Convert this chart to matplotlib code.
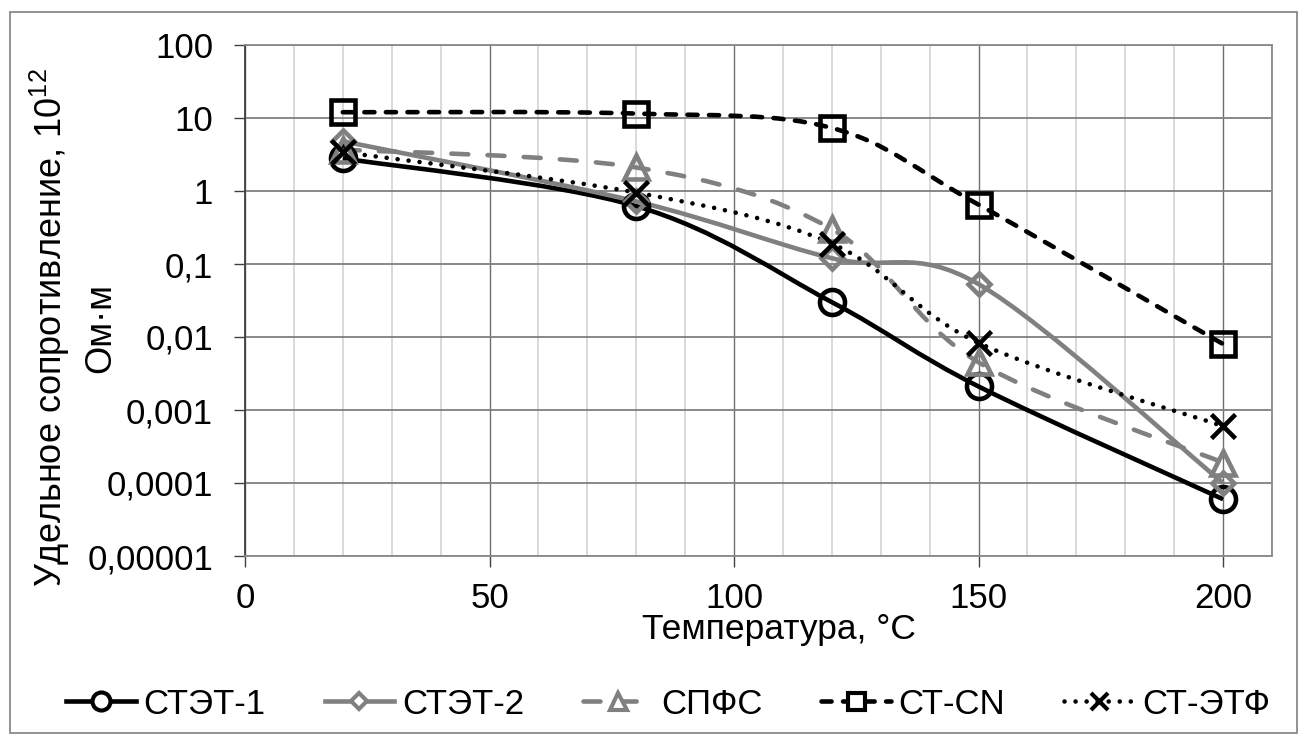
import numpy as np
import matplotlib
matplotlib.use("Agg")
import matplotlib.pyplot as plt
from matplotlib.path import Path
from matplotlib.patches import PathPatch, Rectangle
from matplotlib.lines import Line2D
from matplotlib.ticker import MultipleLocator, FixedLocator, FixedFormatter

plt.rcParams['font.family'] = ['Liberation Sans', 'DejaVu Sans']
plt.rcParams['mathtext.fontset'] = 'custom'
plt.rcParams['mathtext.rm'] = 'Liberation Sans'
plt.rcParams['mathtext.it'] = 'Liberation Sans:italic'

# data
temps = [20, 80, 120, 150, 200]
stet1 = [2.8, 0.62, 0.030, 0.0021, 0.00006]
stet2 = [4.8, 0.72, 0.12, 0.053, 0.0001]
spfs = [3.7, 2.1, 0.30, 0.0045, 0.00019]
ctcn = [12.0, 11.5, 7.3, 0.65, 0.008]
ctetf = [3.4, 0.95, 0.19, 0.0083, 0.0006]
names = ['СТЭТ-1', 'СТЭТ-2', 'СПФС', 'СТ-CN', 'СТ-ЭТФ']

x_ticks = [0, 50, 100, 150, 200]
y_ticks = [1e-5, 1e-4, 1e-3, 1e-2, 1e-1, 1, 10, 100]
y_labels = ['0,00001', '0,0001', '0,001', '0,01', '0,1', '1', '10', '100']

GRAY = '#808080'
LW = 3.3


def smooth_path(x, y):
    # Excel-like smoothed line: cubic Bezier segments through the points (log y)
    lx = np.asarray(x, float)
    ly = np.log10(np.asarray(y, float))
    n = len(lx)
    verts = [(lx[0], ly[0])]
    codes = [Path.MOVETO]
    for i in range(n - 1):
        a = max(i - 1, 0)
        b = min(i + 2, n - 1)
        c1 = (lx[i] + (lx[i + 1] - lx[a]) / 6, ly[i] + (ly[i + 1] - ly[a]) / 6)
        c2 = (lx[i + 1] - (lx[b] - lx[i]) / 6, ly[i + 1] - (ly[b] - ly[i]) / 6)
        verts += [c1, c2, (lx[i + 1], ly[i + 1])]
        codes += [Path.CURVE4] * 3
    verts = [(vx, 10 ** vy) for vx, vy in verts]
    return Path(verts, codes)


fig = plt.figure(figsize=(13.08, 7.4), dpi=100)
W, H = 1308, 740
ax = fig.add_axes([245 / W, 1 - 556 / H, (1272 - 245) / W, (556 - 45) / H])
ax.set_yscale('log')
ax.set_xlim(0, 210)
ax.set_ylim(1e-5, 100)

# grid
ax.xaxis.set_major_locator(FixedLocator(x_ticks))
ax.xaxis.set_minor_locator(MultipleLocator(10))
ax.yaxis.set_major_locator(FixedLocator(y_ticks))
ax.yaxis.set_major_formatter(FixedFormatter(y_labels))
ax.yaxis.set_minor_locator(FixedLocator([]))
ax.grid(True, which='minor', axis='x', color='#cfcfcf', lw=1.1)
ax.grid(True, which='major', axis='x', color='#6e6e6e', lw=1.0)
ax.grid(True, which='major', axis='y', color='#7f7f7f', lw=1.3)
ax.set_axisbelow(True)

for s in ax.spines.values():
    s.set_color('#8a8a8a')
    s.set_linewidth(1.3)
ax.spines['left'].set_color('#404040')

ax.tick_params(axis='both', which='major', direction='out', length=8, width=1,
               color='#404040', labelsize=25)
ax.tick_params(axis='y', pad=15)
ax.tick_params(axis='x', pad=11)
ax.tick_params(which='minor', length=0)

styles = [
    dict(color='black', ls='-', marker='o', ms=18, cap='butt'),
    dict(color=GRAY, ls='-', marker='D', ms=11.5, cap='butt'),
    dict(color=GRAY, ls=(0, (3.7, 4.2)), marker='^', ms=17, cap='round'),
    dict(color='black', ls=(0, (2.2, 2.5)), marker='s', ms=17, cap='round'),
    dict(color='black', ls=(0, (0.01, 2.4)), marker='x', ms=17, cap='round'),
]
series = [stet1, stet2, spfs, ctcn, ctetf]

handles = []
for vals, st, name in zip(series, styles, names):
    patch = PathPatch(smooth_path(temps, vals), facecolor='none', edgecolor=st['color'],
                      lw=LW, linestyle=st['ls'], capstyle=st['cap'], joinstyle='round')
    ax.add_patch(patch)
    ax.plot(temps, vals, linestyle='none', marker=st['marker'], ms=st['ms'],
            mfc='none', mec=st['color'], mew=LW)
    handles.append(Line2D([], [], color=st['color'], lw=LW, linestyle=st['ls'],
                          dash_capstyle=st['cap'], marker=st['marker'],
                          ms=st['ms'] * 0.72, mfc='white', mec=st['color'], mew=LW * 0.9))

fig.legend(handles, names, loc='center', bbox_to_anchor=(668 / W, 1 - 704 / H),
           ncol=5, frameon=False, fontsize=25, handlelength=2.0, handletextpad=0.23,
           columnspacing=1.7, borderpad=0, borderaxespad=0)

fig.text(779 / W, 1 - 630 / H, 'Температура, °C', ha='center', va='center', fontsize=25.5)
# y axis title, two lines
fig.text(50 / W, 1 - 328 / H, 'Удельное сопротивление, 10$^{12}$',
         rotation=90, ha='center', va='center', fontsize=26)
fig.text(101 / W, 1 - 328 / H, 'Ом·м',
         rotation=90, ha='center', va='center', fontsize=26)

fig.patches.append(Rectangle((10 / W, 1 - 733 / H), (1297 - 10) / W, (733 - 12) / H,
                             transform=fig.transFigure, fill=False,
                             edgecolor='#7f7f7f', lw=1.2))

fig.savefig('out.png', dpi=100)
